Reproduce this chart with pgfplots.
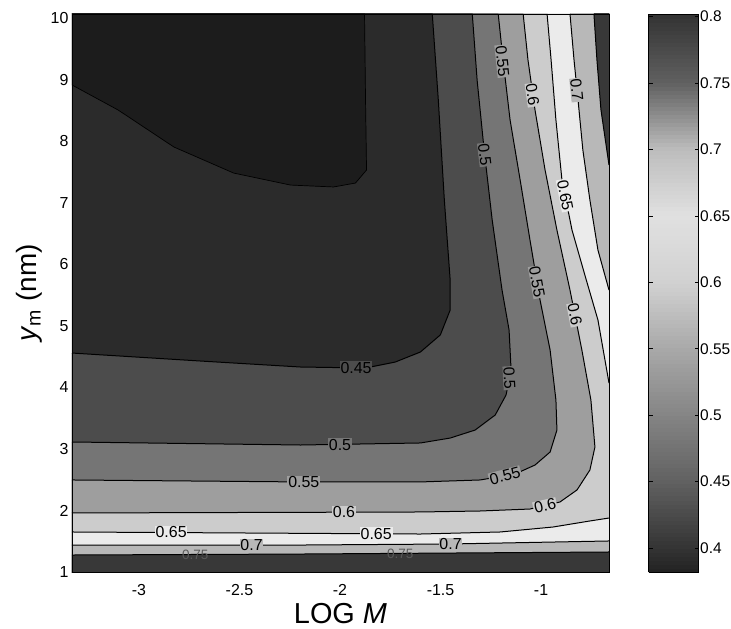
\documentclass[border=0pt]{standalone}
\usepackage{fontspec}
\setmainfont{Liberation Sans}
\usepackage{pgfplots}
\pgfplotsset{compat=1.18}
\definecolor{cA}{gray}{0.11}
\definecolor{cB}{gray}{0.17}
\definecolor{cC}{gray}{0.30}
\definecolor{cD}{gray}{0.46}
\definecolor{cE}{gray}{0.62}
\definecolor{cF}{gray}{0.80}
\definecolor{cG}{gray}{0.92}
\definecolor{cH}{gray}{0.72}
\definecolor{cI}{gray}{0.22}
\pgfplotsset{colormap={mtl}{rgb(0pt)=(0.13,0.13,0.13) rgb(18pt)=(0.2,0.2,0.2) rgb(68pt)=(0.38,0.38,0.38) rgb(118pt)=(0.52,0.52,0.52) rgb(168pt)=(0.66,0.66,0.66) rgb(218pt)=(0.82,0.82,0.82) rgb(268pt)=(0.88,0.88,0.88) rgb(318pt)=(0.74,0.74,0.74) rgb(368pt)=(0.38,0.38,0.38) rgb(420pt)=(0.2,0.2,0.2)}}
\tikzset{lbl/.style={font=\fontsize{16}{18}\selectfont, inner sep=0.8bp, text=black}}
\pgfplotsset{cl/.style={black, line width=1.0bp}}
\begin{document}
\begin{tikzpicture}
\begin{axis}[
  scale only axis, width=537bp, height=558bp,
  xmin=-3.333, xmax=-0.662, ymin=1, ymax=10.065,
  axis on top,
  xtick={-3,-2.5,-2,-1.5,-1}, xticklabels={-3,-2.5,-2,-1.5,-1},
  ytick={1,2,3,4,5,6,7,8,9,10}, yticklabels={1,2,3,4,5,6,7,8,9,10},
  major tick length=0pt,
  tick label style={font=\fontsize{16}{18}\selectfont},
  xticklabel style={anchor=base, yshift=-23bp},
  axis line style={line width=0.6bp},
  xlabel={LOG \textit{M}},
  ylabel={\textit{y}\textsubscript{m} (nm)},
  every axis x label/.style={at={(axis description cs:0.5,-0.093)}, anchor=base, font=\fontsize{29}{32}\selectfont},
  every axis y label/.style={at={(axis description cs:-0.0652,0.5)}, anchor=base, rotate=90, font=\fontsize{28}{30}\selectfont},
  colorbar sampled, colormap name=mtl, point meta min=0.382, point meta max=0.802,
  colorbar style={
    at={(parent axis.north east)}, anchor=north west, xshift=31bp,
    scale only axis, width=50bp, height=558bp,
    samples=140,
    ytick={0.4,0.45,0.5,0.55,0.6,0.65,0.7,0.75,0.8},
    yticklabels={0.4,0.45,0.5,0.55,0.6,0.65,0.7,0.75,0.8},
    yticklabel style={font=\fontsize{15.5}{18}\selectfont, inner sep=1.5bp},
    ytick pos=both, yticklabel pos=right,
    tick align=inside, major tick length=4bp,
    tick style={black, line width=0.6bp},
    axis line style={line width=0.6bp},
  },
]
% background band 0.40-0.45
\addplot[draw=none, fill=cB] coordinates {(-3.4,0.9) (-0.6,0.9) (-0.6,10.2) (-3.4,10.2)} -- cycle;
% below 0.40
\addplot[draw=none, fill=cA] coordinates {(-1.878,10.2) (-1.878,10.065) (-1.873,8.668) (-1.868,7.531) (-1.923,7.319) (-2.032,7.255) (-2.246,7.286) (-2.529,7.481) (-2.826,7.904) (-3.104,8.506) (-3.333,8.912) (-3.4,8.912) (-3.4,10.2)} -- cycle;
% above 0.45
\addplot[draw=none, fill=cC] coordinates {(-1.541,10.2) (-1.541,10.065) (-1.511,8.668) (-1.481,7.043) (-1.452,5.743) (-1.452,5.256) (-1.501,4.851) (-1.600,4.574) (-1.725,4.411) (-1.873,4.314) (-2.196,4.330) (-2.692,4.427) (-3.333,4.557) (-3.4,4.557) (-3.4,0.9) (-0.6,0.9) (-0.6,10.2)} -- cycle;
% above 0.50
\addplot[draw=none, fill=cD] coordinates {(-1.342,10.2) (-1.342,10.065) (-1.318,8.993) (-1.283,7.855) (-1.243,6.718) (-1.194,5.580) (-1.159,4.931) (-1.149,4.281) (-1.174,3.876) (-1.228,3.550) (-1.328,3.306) (-1.452,3.176) (-1.600,3.096) (-2.196,3.063) (-3.333,3.112) (-3.4,3.112) (-3.4,0.9) (-0.6,0.9) (-0.6,10.2)} -- cycle;
% above 0.55
\addplot[draw=none, fill=cE] coordinates {(-1.213,10.2) (-1.213,10.065) (-1.189,9.318) (-1.154,8.343) (-1.104,7.369) (-1.055,6.393) (-1.005,5.419) (-0.955,4.607) (-0.926,3.794) (-0.921,3.306) (-0.955,2.949) (-1.030,2.738) (-1.129,2.592) (-1.303,2.495) (-1.600,2.463) (-2.196,2.463) (-3.333,2.495) (-3.4,2.495) (-3.4,0.9) (-0.6,0.9) (-0.6,10.2)} -- cycle;
% above 0.60
\addplot[draw=none, fill=cF] coordinates {(-1.089,10.2) (-1.089,10.065) (-1.065,9.318) (-1.030,8.506) (-0.980,7.531) (-0.921,6.555) (-0.856,5.580) (-0.797,4.607) (-0.752,3.794) (-0.732,3.030) (-0.757,2.657) (-0.821,2.333) (-0.906,2.137) (-1.055,2.023) (-1.303,1.991) (-1.600,1.975) (-3.333,1.959) (-3.4,1.959) (-3.4,0.9) (-0.6,0.9) (-0.6,10.2)} -- cycle;
% above 0.65
\addplot[draw=none, fill=cG] coordinates {(-0.970,10.2) (-0.970,10.065) (-0.950,9.318) (-0.926,8.343) (-0.896,7.369) (-0.846,6.555) (-0.782,5.823) (-0.717,5.094) (-0.662,4.070) (-0.6,4.070) (-0.6,10.2)} -- cycle;
\addplot[draw=none, fill=cG] coordinates {(-3.4,1.650) (-3.333,1.650) (-1.600,1.617) (-1.203,1.650) (-0.940,1.731) (-0.757,1.829) (-0.662,1.877) (-0.6,1.877) (-0.6,0.9) (-3.4,0.9)} -- cycle;
% above 0.70
\addplot[draw=none, fill=cH] coordinates {(-0.856,10.2) (-0.856,10.065) (-0.836,9.318) (-0.816,8.668) (-0.792,7.855) (-0.757,7.043) (-0.717,6.230) (-0.662,5.580) (-0.6,5.580) (-0.6,10.2)} -- cycle;
\addplot[draw=none, fill=cH] coordinates {(-3.4,1.438) (-3.333,1.438) (-2.196,1.438) (-1.452,1.455) (-0.662,1.504) (-0.6,1.504) (-0.6,0.9) (-3.4,0.9)} -- cycle;
% above 0.75
\addplot[draw=none, fill=cI] coordinates {(-0.737,10.2) (-0.737,10.065) (-0.722,9.318) (-0.702,8.506) (-0.662,7.612) (-0.6,7.612) (-0.6,10.2)} -- cycle;
\addplot[draw=none, fill=cI] coordinates {(-3.4,1.276) (-3.333,1.276) (-2.196,1.292) (-0.662,1.325) (-0.6,1.325) (-0.6,0.9) (-3.4,0.9)} -- cycle;
% contour lines
\addplot[black, line width=0.7bp] coordinates {(-1.878,10.065) (-1.873,8.668) (-1.868,7.531) (-1.923,7.319) (-2.032,7.255) (-2.246,7.286) (-2.529,7.481) (-2.826,7.904) (-3.104,8.506) (-3.333,8.912)};
\addplot[cl] coordinates {(-1.541,10.065) (-1.511,8.668) (-1.481,7.043) (-1.452,5.743) (-1.452,5.256) (-1.501,4.851) (-1.600,4.574) (-1.725,4.411) (-1.873,4.314) (-2.196,4.330) (-2.692,4.427) (-3.333,4.557)};
\addplot[cl] coordinates {(-1.342,10.065) (-1.318,8.993) (-1.283,7.855) (-1.243,6.718) (-1.194,5.580) (-1.159,4.931) (-1.149,4.281) (-1.174,3.876) (-1.228,3.550) (-1.328,3.306) (-1.452,3.176) (-1.600,3.096) (-2.196,3.063) (-3.333,3.112)};
\addplot[cl] coordinates {(-1.213,10.065) (-1.189,9.318) (-1.154,8.343) (-1.104,7.369) (-1.055,6.393) (-1.005,5.419) (-0.955,4.607) (-0.926,3.794) (-0.921,3.306) (-0.955,2.949) (-1.030,2.738) (-1.129,2.592) (-1.303,2.495) (-1.600,2.463) (-2.196,2.463) (-3.333,2.495)};
\addplot[cl] coordinates {(-1.089,10.065) (-1.065,9.318) (-1.030,8.506) (-0.980,7.531) (-0.921,6.555) (-0.856,5.580) (-0.797,4.607) (-0.752,3.794) (-0.732,3.030) (-0.757,2.657) (-0.821,2.333) (-0.906,2.137) (-1.055,2.023) (-1.303,1.991) (-1.600,1.975) (-3.333,1.959)};
\addplot[cl] coordinates {(-0.970,10.065) (-0.950,9.318) (-0.926,8.343) (-0.896,7.369) (-0.846,6.555) (-0.782,5.823) (-0.717,5.094) (-0.662,4.070)};
\addplot[cl] coordinates {(-3.333,1.650) (-1.600,1.617) (-1.203,1.650) (-0.940,1.731) (-0.757,1.829) (-0.662,1.877)};
\addplot[cl] coordinates {(-0.856,10.065) (-0.836,9.318) (-0.816,8.668) (-0.792,7.855) (-0.757,7.043) (-0.717,6.230) (-0.662,5.580)};
\addplot[cl] coordinates {(-3.333,1.438) (-2.196,1.438) (-1.452,1.455) (-0.662,1.504)};
\addplot[cl] coordinates {(-0.737,10.065) (-0.722,9.318) (-0.702,8.506) (-0.662,7.612)};
\addplot[cl] coordinates {(-3.333,1.276) (-2.196,1.292) (-0.662,1.325)};
% contour labels
\node[lbl, fill=cD] at (-2.00,3.065) {0.5};
\node[lbl, fill=cE] at (-2.18,2.463) {0.55};
\node[lbl, fill=cF] at (-1.98,1.968) {0.6};
\node[lbl, fill=cG] at (-2.84,1.646) {0.65};
\node[lbl, fill=cG] at (-1.82,1.625) {0.65};
\node[lbl, fill=cH] at (-2.44,1.438) {0.7};
\node[lbl, fill=cH] at (-1.45,1.455) {0.7};
\node[lbl, text=black!65, scale=0.85] at (-2.72,1.28) {0.75};
\node[lbl, text=black!65, scale=0.85] at (-1.70,1.30) {0.75};
\node[lbl, fill=cE, rotate=15] at (-1.179,2.564) {0.55};
\node[lbl, fill=cF, rotate=13] at (-0.98,2.07) {0.6};
\node[lbl, fill=cE, rotate=-84] at (-1.192,9.30) {0.55};
\node[lbl, fill=cF, rotate=-82] at (-1.042,8.75) {0.6};
\node[lbl, fill=cH, rotate=-84] at (-0.822,8.83) {0.7};
\node[lbl, fill=cD, rotate=-83] at (-1.280,7.78) {0.5};
\node[lbl, fill=cG, rotate=-79] at (-0.880,7.12) {0.65};
\node[lbl, fill=cE, rotate=-80] at (-1.020,5.71) {0.55};
\node[lbl, fill=cF, rotate=-79] at (-0.832,5.18) {0.6};
\node[lbl, fill=cD, rotate=-87] at (-1.157,4.15) {0.5};
\node[lbl, fill=cC] at (-1.92,4.32) {0.45};
\end{axis}
\pgfresetboundingbox
\path[use as bounding box] (-72bp,-57bp) rectangle (659bp,572bp);
\end{tikzpicture}
\end{document}
